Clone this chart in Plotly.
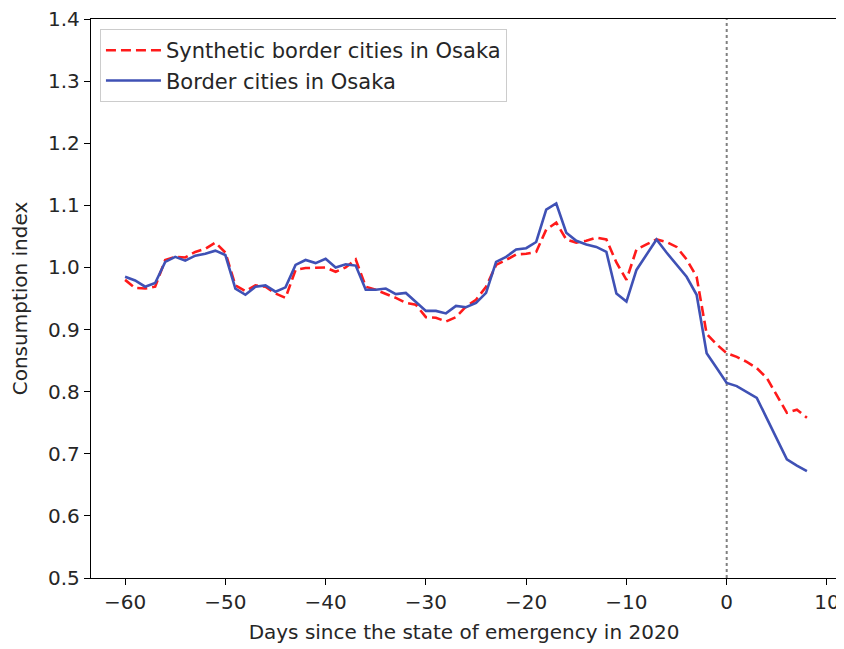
import plotly.graph_objects as go

days = list(range(-60, 9))

synthetic = [
    0.980, 0.967, 0.966, 0.969, 1.012, 1.017, 1.016, 1.025, 1.030, 1.040,
    1.024, 0.971, 0.962, 0.971, 0.969, 0.958, 0.951, 0.996, 0.999, 0.999,
    1.000, 0.993, 1.000, 1.013, 0.969, 0.964, 0.958, 0.951, 0.943, 0.940,
    0.920, 0.919, 0.913, 0.920, 0.937, 0.948, 0.969, 1.004, 1.012, 1.021,
    1.022, 1.025, 1.061, 1.072, 1.045, 1.040, 1.043, 1.048, 1.045, 1.008,
    0.980, 1.029, 1.037, 1.045, 1.041, 1.033, 1.013, 0.985, 0.893, 0.876,
    0.862, 0.856, 0.848, 0.838, 0.822, 0.795, 0.766, 0.771, 0.758,
]

border = [
    0.985, 0.979, 0.969, 0.975, 1.009, 1.017, 1.011, 1.019, 1.022, 1.027,
    1.020, 0.966, 0.956, 0.969, 0.971, 0.961, 0.968, 1.004, 1.012, 1.007,
    1.014, 1.000, 1.005, 1.003, 0.964, 0.964, 0.966, 0.957, 0.959, 0.945,
    0.930, 0.930, 0.926, 0.938, 0.936, 0.943, 0.959, 1.009, 1.017, 1.029,
    1.031, 1.041, 1.093, 1.103, 1.056, 1.043, 1.037, 1.033, 1.025, 0.958,
    0.945, 0.996, 1.020, 1.045, 1.024, 1.004, 0.985, 0.956, 0.862, 0.838,
    0.814, 0.809, 0.800, 0.790, 0.757, 0.724, 0.691, 0.681, 0.672,
]

x_ticks = [-60, -50, -40, -30, -20, -10, 0, 10]
y_ticks = [0.5, 0.6, 0.7, 0.8, 0.9, 1.0, 1.1, 1.2, 1.3, 1.4]

FONT = "DejaVu Sans"
TXT = "#262626"
FS = 20

fig = go.Figure()
fig.add_trace(go.Scatter(
    x=days, y=synthetic, mode="lines", name="Synthetic border cities in Osaka",
    line=dict(color="#ff1a1a", width=2.6, dash="10px,5px"),
))
fig.add_trace(go.Scatter(
    x=days, y=border, mode="lines", name="Border cities in Osaka",
    line=dict(color="#3f51b5", width=2.6),
))

fig.add_shape(type="line", xref="x", yref="paper", x0=0, x1=0, y0=0, y1=1,
              line=dict(color="#808080", width=2, dash="dot"), layer="below")

axis_common = dict(
    showgrid=False, zeroline=False, showline=True, linecolor="black",
    linewidth=1.3, mirror=True, ticks="outside", ticklen=6, tickwidth=1.3,
    tickcolor="black", tickfont=dict(family=FONT, size=FS, color=TXT),
    automargin=False, ticklabeloverflow="allow",
)

fig.update_xaxes(range=[-63.4, 11.0], tickvals=x_ticks,
                 title=dict(text="Days since the state of emergency in 2020",
                            font=dict(family=FONT, size=FS, color=TXT),
                            standoff=11),
                 **axis_common)
fig.update_yaxes(range=[0.5, 1.4], tickvals=y_ticks, tickformat=".1f",
                 title=dict(text="Consumption index",
                            font=dict(family=FONT, size=FS, color=TXT),
                            standoff=16),
                 **axis_common)

# the page body adds an 8 px offset; size the figure so the plot box lands
# where the reference has it
fig.update_layout(
    width=836, height=641,
    margin=dict(l=83, r=7, t=11, b=71, autoexpand=False),
    plot_bgcolor="white", paper_bgcolor="white",
    font=dict(family=FONT, size=FS, color=TXT),
    showlegend=True,
    legend=dict(x=0.012, y=0.982, xanchor="left", yanchor="top",
                bgcolor="rgba(255,255,255,0.8)", bordercolor="#cccccc",
                borderwidth=1, font=dict(family=FONT, size=21, color=TXT),
                itemwidth=55),
)

fig.write_html("out.html")
